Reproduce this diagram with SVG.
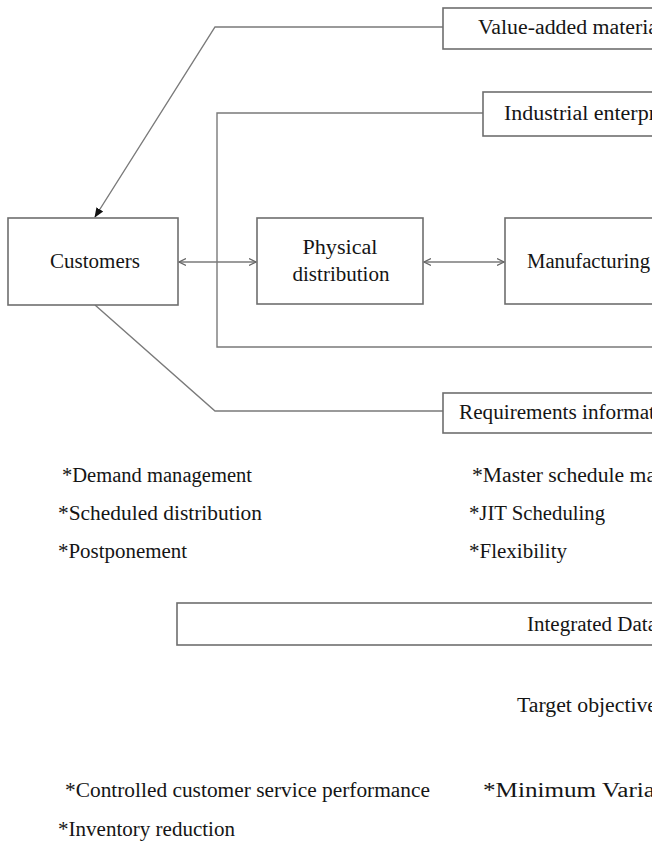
<svg xmlns="http://www.w3.org/2000/svg" width="652" height="846" viewBox="0 0 652 846">
<style>
.box{fill:#fff;stroke:#6e6e6e;stroke-width:1.6}
.ln{fill:none;stroke:#7a7a7a;stroke-width:1.4}
text{font-family:"Liberation Serif","Times New Roman",serif;font-size:20px;fill:#151515}
.c{text-anchor:middle}
</style>
<defs>
<marker id="fill" markerWidth="10" markerHeight="10" refX="9" refY="5" orient="auto" markerUnits="userSpaceOnUse">
<path d="M0,1 L10,5 L0,9 z" fill="#111"/>
</marker>
<marker id="chev" markerWidth="8" markerHeight="8" refX="7" refY="4" orient="auto-start-reverse" markerUnits="userSpaceOnUse">
<path d="M0,0.5 L7,4 L0,7.5" fill="none" stroke="#666" stroke-width="1.2"/>
</marker>
</defs>
<rect width="652" height="846" fill="#fff"/>
<g id="connectors">
<polyline class="ln" points="443,27 215,27 95,217" marker-end="url(#fill)"/>
<polyline class="ln" points="483,113 217,113 217,347 652,347"/>
<polyline class="ln" points="95,305 215,411 443,411"/>
<line class="ln" x1="179" y1="262" x2="256" y2="262" marker-start="url(#chev)" marker-end="url(#chev)"/>
<line class="ln" x1="424" y1="262" x2="504" y2="262" marker-start="url(#chev)" marker-end="url(#chev)"/>
</g>
<g id="customers">
<rect class="box" x="8" y="218" width="170" height="87"/>
<text x="95" y="268" class="c" textLength="90" lengthAdjust="spacingAndGlyphs">Customers</text>
</g>
<g id="physical-distribution">
<rect class="box" x="257" y="218" width="166" height="86"/>
<text x="340" y="254" class="c" textLength="75" lengthAdjust="spacingAndGlyphs">Physical</text>
<text x="341" y="281" class="c" textLength="97" lengthAdjust="spacingAndGlyphs">distribution</text>
</g>
<g id="manufacturing">
<rect class="box" x="505" y="218" width="160" height="86"/>
<text x="527" y="268" textLength="123" lengthAdjust="spacingAndGlyphs">Manufacturing</text>
</g>
<g id="value-added">
<rect class="box" x="443" y="8" width="230" height="41"/>
<text x="478" y="34" textLength="180" lengthAdjust="spacingAndGlyphs">Value-added materia</text>
</g>
<g id="industrial">
<rect class="box" x="483" y="92" width="190" height="44"/>
<text x="504" y="120" textLength="152" lengthAdjust="spacingAndGlyphs">Industrial enterpr</text>
</g>
<g id="requirements">
<rect class="box" x="443" y="393" width="230" height="40"/>
<text x="459" y="419" textLength="196" lengthAdjust="spacingAndGlyphs">Requirements informat</text>
</g>
<g id="integrated-data">
<rect class="box" x="177" y="603" width="500" height="42"/>
<text x="527" y="631" textLength="130" lengthAdjust="spacingAndGlyphs">Integrated Data</text>
</g>
<g id="lists">
<text x="62" y="482" textLength="190" lengthAdjust="spacingAndGlyphs">*Demand management</text>
<text x="58" y="520" textLength="204" lengthAdjust="spacingAndGlyphs">*Scheduled distribution</text>
<text x="58" y="558" textLength="129" lengthAdjust="spacingAndGlyphs">*Postponement</text>
<text x="472" y="482" textLength="184" lengthAdjust="spacingAndGlyphs">*Master schedule ma</text>
<text x="469" y="520" textLength="136" lengthAdjust="spacingAndGlyphs">*JIT Scheduling</text>
<text x="469" y="558" textLength="98" lengthAdjust="spacingAndGlyphs">*Flexibility</text>
<text x="517" y="712" textLength="140" lengthAdjust="spacingAndGlyphs">Target objective</text>
<text x="65" y="797" textLength="365" lengthAdjust="spacingAndGlyphs">*Controlled customer service performance</text>
<text x="483" y="797" textLength="172" lengthAdjust="spacingAndGlyphs">*Minimum Varia</text>
<text x="58" y="836" textLength="177" lengthAdjust="spacingAndGlyphs">*Inventory reduction</text>
</g>
</svg>
